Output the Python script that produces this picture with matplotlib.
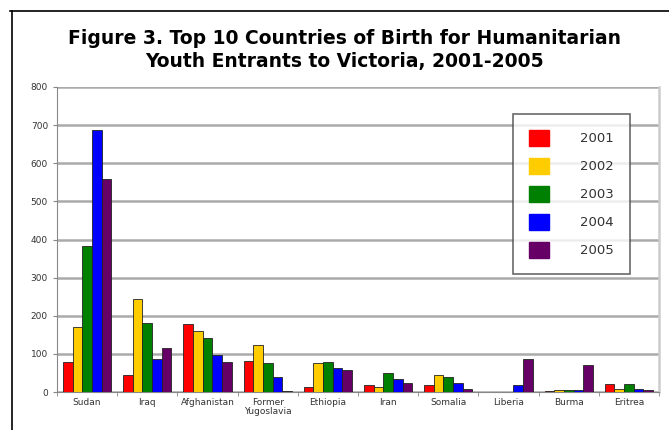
import numpy as np
import matplotlib
matplotlib.use("Agg")
import matplotlib.pyplot as plt
from matplotlib.patches import Rectangle
from matplotlib.lines import Line2D

countries = ["Sudan", "Iraq", "Afghanistan", "Former\nYugoslavia", "Ethiopia",
             "Iran", "Somalia", "Liberia", "Burma", "Eritrea"]
years = ["2001", "2002", "2003", "2004", "2005"]
v2001 = [79, 45, 179, 82, 14, 18, 18, 0, 2, 20]
v2002 = [170, 244, 159, 123, 76, 14, 45, 0, 4, 7]
v2003 = [382, 181, 141, 75, 80, 49, 39, 0, 5, 20]
v2004 = [686, 86, 97, 40, 64, 33, 23, 18, 4, 8]
v2005 = [558, 115, 79, 2, 58, 23, 9, 87, 70, 6]
colors = ["#ff0000", "#ffcc00", "#008000", "#0000ff", "#660066"]

fig = plt.figure(figsize=(6.69, 4.30), dpi=100)
# outer frame lines (top and left)
fig.add_artist(Line2D([10 / 669, 1.0], [1 - 11 / 430, 1 - 11 / 430], color="black", lw=1.2))
fig.add_artist(Line2D([12 / 669, 12 / 669], [0, 1 - 11 / 430], color="black", lw=1.2))

fig.text(0.515, 1 - 38 / 430, "Figure 3. Top 10 Countries of Birth for Humanitarian",
         ha="center", va="center", fontsize=13.5, fontweight="bold", family="DejaVu Sans")
fig.text(0.515, 1 - 62 / 430, "Youth Entrants to Victoria, 2001-2005",
         ha="center", va="center", fontsize=13.5, fontweight="bold", family="DejaVu Sans")

ax = fig.add_axes([57 / 669, 1 - 392 / 430, 602 / 669, 305 / 430])
x = np.arange(len(countries))
w = 0.16
for i, vals in enumerate([v2001, v2002, v2003, v2004, v2005]):
    ax.bar(x + (i - 2) * w, vals, w, color=colors[i], edgecolor="#222222",
           linewidth=0.6, label=years[i], zorder=3)

ax.set_xlim(-0.5, len(countries) - 0.5)
ax.set_ylim(0, 800)
ax.set_yticks(range(0, 801, 100))
ax.yaxis.grid(True, color="#aaaaaa", linewidth=1.8, zorder=0)
ax.set_axisbelow(True)
ax.spines["top"].set_visible(False)
ax.spines["right"].set_color("#cccccc")
ax.spines["right"].set_linewidth(1.8)
ax.spines["left"].set_color("#888888")
ax.spines["bottom"].set_color("#888888")
ax.tick_params(axis="y", labelsize=6.5, labelcolor="#333333", length=3, color="#888888")
ax.set_xticks(x)
ax.set_xticklabels(countries, fontsize=6.5, color="#333333", linespacing=1.1)
ax.tick_params(axis="x", length=0, pad=4)
ax.set_xticks(np.arange(-0.5, len(countries), 1), minor=True)
ax.tick_params(axis="x", which="minor", length=3, color="#888888")

handles = [Rectangle((0, 0), 1, 1, color=c) for c in colors]
leg = ax.legend(handles, years, loc="upper left", bbox_to_anchor=(456 / 602, 1 - 27 / 305),
                fontsize=9.5, frameon=True, fancybox=False, handlelength=1.5,
                handleheight=1.5, handletextpad=2.4, labelspacing=0.9,
                borderpad=1.2, borderaxespad=0)
leg.get_frame().set_edgecolor("#444444")
leg.get_frame().set_linewidth(1.2)
for t in leg.get_texts():
    t.set_color("#333333")

fig.savefig("out.png", dpi=100)
